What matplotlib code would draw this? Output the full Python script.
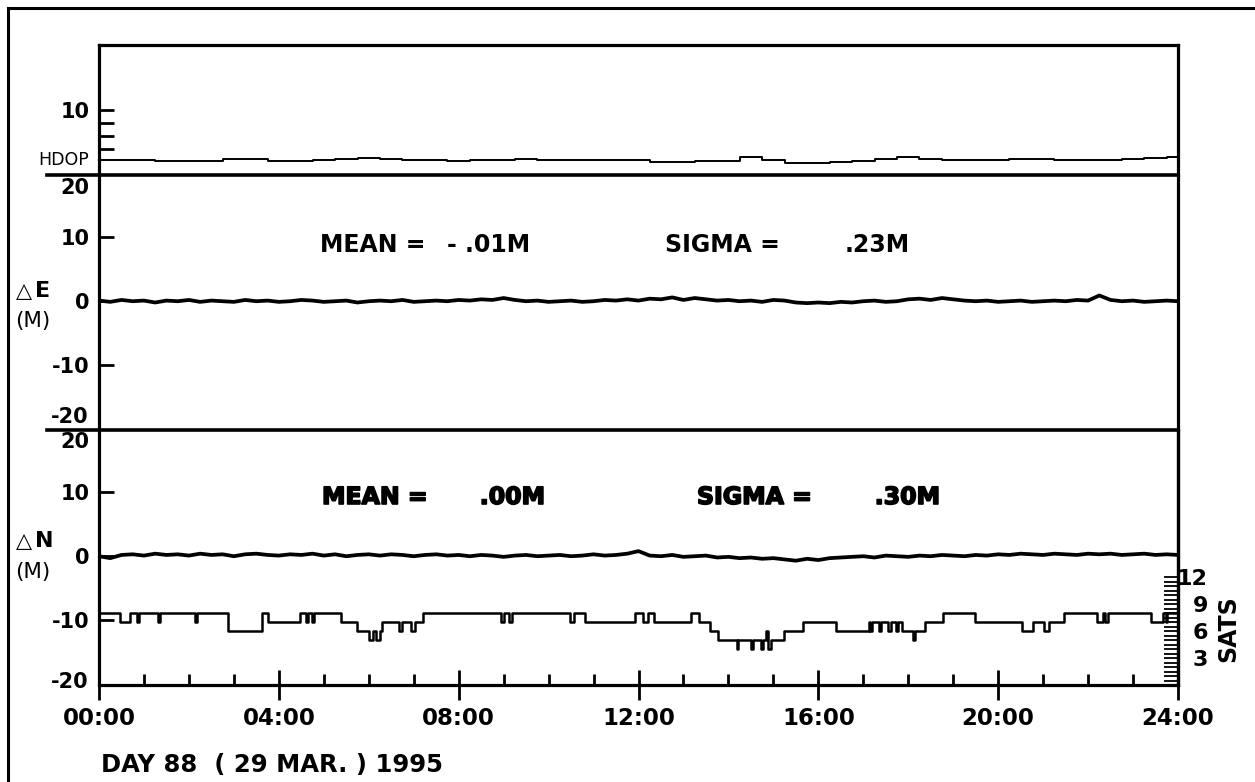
import numpy as np
import matplotlib
matplotlib.use("Agg")
import matplotlib.pyplot as plt
from matplotlib.lines import Line2D
from matplotlib.ticker import FixedLocator, FixedFormatter
import matplotlib.patheffects as pe

# ---- data ----
hours_q = np.arange(0, 24.01, 0.25)      # 15 min samples for dE / dN
hours_h = np.arange(0, 24.01, 0.5)       # 30 min samples for HDOP

delta_e = [0.1, -0.1, 0.2, 0.0, 0.1, -0.2, 0.1, 0.0, 0.2,
           -0.1, 0.1, 0.0, -0.1, 0.2, 0.0, 0.1, -0.1,
           0.0, 0.2, 0.1, -0.1, 0.0, 0.1, -0.2, 0.0,
           0.1, 0.0, 0.2, -0.1, 0.0, 0.1, 0.0, 0.2,
           0.1, 0.3, 0.2, 0.5, 0.2, 0.0, 0.1, -0.1,
           0.0, 0.1, -0.1, 0.0, 0.2, 0.1, 0.3, 0.1,
           0.4, 0.3, 0.6, 0.2, 0.5, 0.3, 0.1, 0.2,
           0.0, 0.1, -0.1, 0.2, 0.1, -0.2, -0.3, -0.2,
           -0.3, -0.1, -0.2, 0.0, 0.1, -0.1, 0.0, 0.3,
           0.4, 0.2, 0.5, 0.3, 0.1, 0.0, 0.1, -0.1,
           0.0, 0.1, -0.1, 0.0, 0.1, 0.0, 0.2, 0.1,
           0.9, 0.2, 0.0, 0.1, -0.1, 0.0, 0.1, 0.0]

delta_n = [0.0, -0.3, 0.2, 0.3, 0.1, 0.4, 0.2, 0.3, 0.1,
           0.4, 0.2, 0.3, 0.0, 0.3, 0.4, 0.2, 0.1,
           0.3, 0.2, 0.4, 0.1, 0.3, 0.0, 0.2, 0.3,
           0.1, 0.3, 0.2, 0.0, 0.2, 0.3, 0.1, 0.2,
           0.0, 0.2, 0.1, -0.1, 0.1, 0.2, 0.0, 0.1,
           0.2, 0.0, 0.1, 0.3, 0.1, 0.2, 0.4, 0.8,
           0.1, 0.0, 0.2, -0.1, 0.0, 0.1, -0.2, -0.1,
           -0.3, -0.2, -0.4, -0.3, -0.5, -0.7, -0.4, -0.6,
           -0.3, -0.2, -0.1, 0.0, -0.2, 0.1, 0.0, -0.1,
           0.1, 0.0, 0.2, 0.1, 0.0, 0.2, 0.1, 0.3,
           0.2, 0.4, 0.3, 0.2, 0.4, 0.3, 0.2, 0.4,
           0.3, 0.4, 0.2, 0.3, 0.4, 0.2, 0.3, 0.2]

hdop = [2.3, 2.3, 2.3, 2.1, 2.2, 2.2, 2.4, 2.4, 2.2, 2.2,
        2.3, 2.4, 2.6, 2.5, 2.3, 2.3, 2.2, 2.3, 2.3, 2.4,
        2.3, 2.3, 2.3, 2.3, 2.3, 1.95, 1.95, 2.15, 2.2, 2.7,
        2.3, 1.85, 1.8, 2.0, 2.1, 2.4, 2.7, 2.4, 2.3, 2.3,
        2.3, 2.5, 2.5, 2.3, 2.3, 2.3, 2.4, 2.6, 2.7]

# satellites in view: (start hour, count) steps
sat_times = [0.0, 0.467, 0.69, 0.846, 0.89, 1.313, 1.36, 2.137, 2.18, 2.872,
             3.629, 3.762, 4.475, 4.61, 4.65, 4.74, 4.78, 5.387, 5.744, 6.011,
             6.10, 6.167, 6.256, 6.30, 6.68, 6.73, 6.946, 7.035, 7.202, 8.949,
             9.0, 9.127, 9.18, 10.485, 10.575, 10.82, 11.93, 12.10, 12.22, 12.355,
             13.157, 13.335, 13.59, 13.758, 14.18, 14.22, 14.508, 14.55, 14.72, 14.76,
             14.83, 14.87, 14.89, 14.95, 15.24, 15.665, 16.385, 17.12, 17.155, 17.20,
             17.36, 17.40, 17.56, 17.62, 17.72, 17.78, 17.85, 18.10, 18.14, 18.366,
             18.77, 19.48, 20.54, 20.77, 21.03, 21.14, 21.46, 22.195, 22.34, 22.37,
             22.45, 23.40, 23.66, 23.73, 23.76, 24.0]
sat_counts = [8, 7, 8, 7, 8, 7, 8, 7, 8, 6,
              8, 7, 8, 7, 8, 7, 8, 7, 6, 5,
              6, 5, 6, 7, 6, 7, 6, 7, 8, 7,
              8, 7, 8, 7, 8, 7, 8, 7, 8, 7,
              8, 7, 6, 5, 4, 5, 4, 5, 4, 5,
              6, 5, 4, 5, 6, 7, 6, 7, 6, 7,
              6, 7, 6, 7, 6, 7, 6, 5, 6, 7,
              8, 7, 6, 7, 6, 7, 8, 7, 8, 7,
              8, 7, 8, 7, 8, 8]

hour_ticks = [0, 4, 8, 12, 16, 20, 24]
hour_labels = ["00:00", "04:00", "08:00", "12:00", "16:00", "20:00", "24:00"]
sat_ticks = [3, 6, 9, 12]

# ---- layout (pixel based) ----
W, H = 1255, 782
fig = plt.figure(figsize=(W / 100, H / 100), dpi=100)


def fx(px):
    return px / W


def fy(py):
    return 1 - py / H


L, R = 99, 1178
BOLD = dict(fontweight="bold", family="DejaVu Sans")
SPW = 2.3


def make_axes(top, bottom):
    ax = fig.add_axes([fx(L), fy(bottom), fx(R) - fx(L), fy(top) - fy(bottom)])
    ax.set_xlim(0, 24)
    for s in ax.spines.values():
        s.set_linewidth(SPW)
    ax.spines["top"].set_visible(False)
    ax.spines["bottom"].set_visible(False)
    ax.set_xticks([])
    return ax


ax_h = make_axes(45, 175)
ax_e = make_axes(175, 430)
ax_n = make_axes(430, 685)
ax_h.spines["top"].set_visible(True)
ax_n.spines["bottom"].set_visible(True)

# HDOP panel
ax_h.plot(hours_h, hdop, color="black", lw=1.4, drawstyle="steps-mid")
ax_h.set_ylim(0, 20)
ax_h.yaxis.set_major_locator(FixedLocator([4, 6, 8, 10]))
ax_h.yaxis.set_major_formatter(FixedFormatter(["", "", "", "10"]))
ax_h.tick_params(axis="y", direction="in", length=11, width=2, pad=7, labelsize=15)

# dE panel
ax_e.plot(hours_q, delta_e, color="black", lw=2.7)
ax_e.set_ylim(-20.2, 19.8)
ax_n.set_ylim(-20.2, 19.8)
for ax in (ax_e, ax_n):
    ax.yaxis.set_major_locator(FixedLocator([-10, 0, 10]))
    ax.yaxis.set_major_formatter(FixedFormatter(["-10", "0", "10"]))
    ax.tick_params(axis="y", direction="in", length=11, width=2, pad=7, labelsize=15)
    for lab in ax.get_yticklabels():
        lab.set_fontweight("bold")
for lab in ax_h.get_yticklabels():
    lab.set_fontweight("bold")

# dN panel
ax_n.plot(hours_q, delta_n, color="black", lw=2.7)
ax_n.xaxis.set_major_locator(FixedLocator(hour_ticks))
ax_n.xaxis.set_major_formatter(FixedFormatter(hour_labels))
ax_n.xaxis.set_minor_locator(FixedLocator(range(1, 24)))
ax_n.tick_params(axis="x", which="major", direction="inout", length=21, width=2,
                 pad=5, labelsize=16.5)
ax_n.tick_params(axis="x", which="minor", direction="in", length=8, width=2)
for lab in ax_n.get_xticklabels():
    lab.set_fontweight("bold")

# satellite count on a twin scale (9 px per satellite)
ax_s = ax_n.twinx()
ax_s.set_ylim(0, 255 / 9)
ax_s.plot(sat_times, sat_counts, color="black", lw=1.8, drawstyle="steps-post")
for k in ("left", "top", "bottom"):
    ax_s.spines[k].set_visible(False)
ax_s.spines["right"].set_linewidth(SPW)
ax_s.yaxis.set_major_locator(FixedLocator(sat_ticks))
ax_s.yaxis.set_major_formatter(FixedFormatter([str(t) for t in sat_ticks]))
ax_s.yaxis.set_minor_locator(FixedLocator(np.arange(0.5, 12.01, 0.5)))
ax_s.tick_params(axis="y", which="both", direction="in", length=10, width=1.3)
ax_s.tick_params(axis="y", which="major", pad=21.5, labelsize=16)
for lab in ax_s.get_yticklabels():
    lab.set_fontweight("bold")
    lab.set_horizontalalignment("right")
fig.text(fx(1228), fy(629), "SATS", rotation=90, ha="center", va="center",
         fontsize=17, **BOLD)

# +-20 end labels
for ax, yv in ((ax_e, 17.7), (ax_e, -18.2), (ax_n, 17.9), (ax_n, -19.7)):
    lab = "20" if yv > 0 else "-20"
    ax.text(-10 / (R - L), yv, lab, transform=ax.get_yaxis_transform(),
            ha="right", va="center", fontsize=15, **BOLD)

# panel separators extending left of the axis
for py in (175, 430):
    fig.add_artist(Line2D([fx(47), fx(R)], [fy(py), fy(py)], color="black", lw=2.6))

# outer frame (left + top visible)
fig.add_artist(Line2D([fx(7.5), fx(7.5)], [fy(8), 0], color="black", lw=2.2))
fig.add_artist(Line2D([fx(7.5), 1], [fy(8), fy(8)], color="black", lw=2.2))

# left side labels
fig.text(fx(89), fy(160), "HDOP", ha="right", va="center", fontsize=12.5,
         family=["Liberation Sans Narrow", "DejaVu Sans"])
for py, letter in ((291, "E"), (541, "N")):
    fig.text(fx(16), fy(py), "\u25b3", ha="left", va="center", fontsize=15,
             family="DejaVu Sans")
    fig.text(fx(35), fy(py), letter, ha="left", va="center", fontsize=16, **BOLD)
for py in (321, 572):
    fig.text(fx(15), fy(py), "(M)", ha="left", va="center", fontsize=15.5,
             family="DejaVu Sans")

# statistics
heavy = [pe.Stroke(linewidth=1.2, foreground="black"), pe.Normal()]
stats = [(320, 530, 245, "MEAN =", "- .01M", None),
         (665, 910, 245, "SIGMA =", ".23M", None),
         (322, 545, 497, "MEAN =", ".00M", heavy),
         (697, 940, 497, "SIGMA =", ".30M", heavy)]
for x0, x1, py, left, right, eff in stats:
    t1 = fig.text(fx(x0), fy(py), left, ha="left", va="center", fontsize=17, **BOLD)
    t2 = fig.text(fx(x1), fy(py), right, ha="right", va="center", fontsize=17, **BOLD)
    if eff:
        t1.set_path_effects(eff)
        t2.set_path_effects(eff)

fig.text(fx(101), fy(765), "DAY 88  ( 29 MAR. ) 1995", ha="left", va="center",
         fontsize=17.5, **BOLD)

fig.savefig("out.png", dpi=100)
